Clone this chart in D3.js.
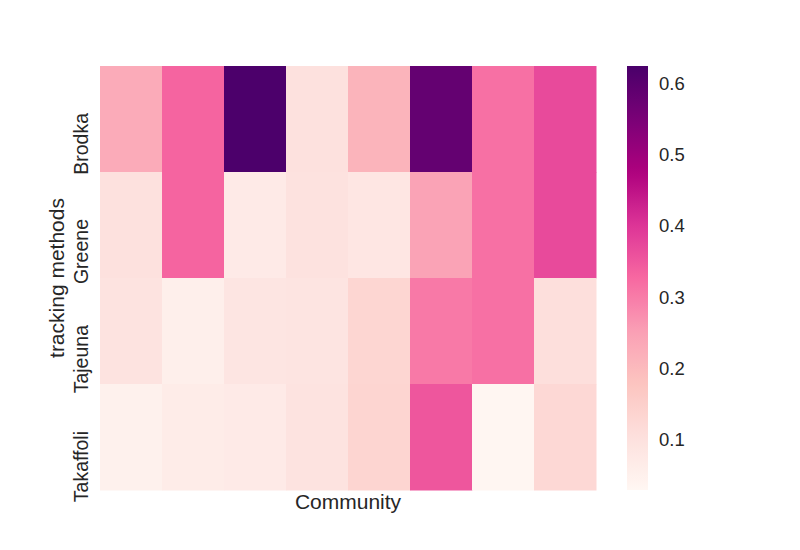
<!DOCTYPE html>
<html><head><meta charset="utf-8">
<script src="https://cdn.jsdelivr.net/npm/d3@7"></script>
<style>body{margin:0;background:#fff;} text{font-family:"Liberation Sans",Arial,sans-serif;fill:#262626;}</style>
</head><body><svg id="c" width="800" height="550"></svg>
<script>
const methods = ["Brodka","Greene","Tajeuna","Takaffoli"];
const communities = [0,1,2,3,4,5,6,7];
const brodka    = [0.229,0.333,0.620,0.102,0.212,0.583,0.316,0.370];
const greene    = [0.101,0.333,0.072,0.098,0.085,0.245,0.316,0.370];
const tajeuna   = [0.095,0.056,0.088,0.090,0.132,0.304,0.316,0.107];
const takaffoli = [0.049,0.066,0.072,0.095,0.135,0.353,0.032,0.125];
const values = [brodka,greene,tajeuna,takaffoli];
const cbTicks = [0.1,0.2,0.3,0.4,0.5,0.6];
const vmin = 0.030, vmax = 0.624;
const rdpu = ["#fff7f3","#fde0dd","#fcc5c0","#fa9fb5","#f768a1","#dd3497","#ae017e","#7a0177","#49006a"];

const svg = d3.select("#c");
const L=100,R=596,T=66,B=490;
const x = d3.scaleBand().domain(communities).range([L,R]);
const y = d3.scaleBand().domain(methods).range([T,B]);
const color = d3.scaleLinear()
  .domain(rdpu.map((_,i)=>vmin+(vmax-vmin)*i/(rdpu.length-1)))
  .range(rdpu).interpolate(d3.interpolateRgb).clamp(true);

const cells=[];
methods.forEach((m,i)=>communities.forEach((c,j)=>cells.push({m,c,v:values[i][j]})));
svg.append("g").selectAll("rect").data(cells).join("rect")
  .attr("x",d=>x(d.c)).attr("y",d=>y(d.m))
  .attr("width",x.bandwidth()+0.5).attr("height",y.bandwidth()+0.5)
  .attr("fill",d=>color(d.v));

// y tick labels (text end sits slightly above row centre)
svg.append("g").selectAll("text").data(methods).join("text")
  .attr("transform",d=>`translate(88,${y(d)+y.bandwidth()/2-6}) rotate(-90)`)
  .attr("text-anchor","end").attr("font-size",19.5).text(d=>d);

svg.append("text").attr("transform",`translate(64,${(T+B)/2}) rotate(-90)`)
  .attr("text-anchor","middle").attr("font-size",21).text("tracking methods");
svg.append("text").attr("x",(L+R)/2).attr("y",509)
  .attr("text-anchor","middle").attr("font-size",21).text("Community");

// colorbar
const cbx=627, cbw=21;
const cy = d3.scaleLinear().domain([vmin,vmax]).range([B,T]);
const defs = svg.append("defs");
const grad = defs.append("linearGradient").attr("id","g").attr("x1",0).attr("y1",1).attr("x2",0).attr("y2",0);
d3.range(0,1.0001,0.02).forEach(t=>grad.append("stop").attr("offset",t).attr("stop-color",color(vmin+(vmax-vmin)*t)));
svg.append("rect").attr("x",cbx).attr("y",T).attr("width",cbw).attr("height",B-T).attr("fill","url(#g)");
const ax = svg.append("g").attr("transform",`translate(${cbx+cbw},0)`)
  .call(d3.axisRight(cy).tickValues(cbTicks).tickSize(0).tickPadding(11).tickFormat(d3.format(".1f")));
ax.select(".domain").remove();
ax.selectAll("text").attr("font-size",18.5).attr("fill","#262626").style("font-family","'Liberation Sans',Arial,sans-serif");
</script></body></html>
